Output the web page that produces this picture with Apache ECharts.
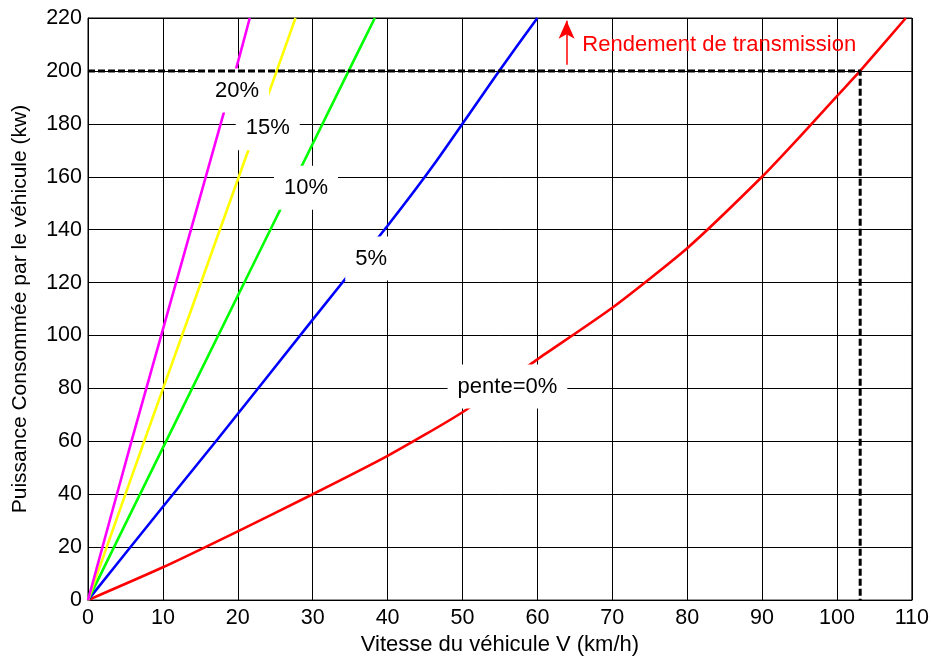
<!DOCTYPE html>
<html>
<head>
<meta charset="utf-8">
<script src="https://cdn.jsdelivr.net/npm/echarts@6/dist/echarts.min.js"></script>
<style>html,body{margin:0;padding:0;background:#fff}#c{width:932px;height:661px}</style>
</head>
<body>
<div id="c"></div>
<script>
// Data (x: km/h, y: kW)
const pente20 = [[0,0],[5.9,61],[19.7,200],[21.6,220]];
const pente15 = [[0,0],[7.7,61.6],[25.2,200],[27.7,220]];
const pente10 = [[0,0],[10.7,61.6],[34.8,200],[38.3,220]];
const pente5  = [[0,0],[10,35.3],[17.3,60.8],[30,106],[40,141.5],[46.4,165.5],[54.9,200],[60,220]];
const pente0  = [[0,0],[10,12.4],[20,26],[30,40],[40,54.5],[50,71],[60,91],[70,110.5],[80,133],[90,160],[95,175],[100,190.5],[103.1,200],[109.2,220]];
const refLine = [[0,200],[103.1,200],[103.1,0]];
const curveLabels = [[19.9,192.6,'20%'],[24.0,178.3,'15%'],[29.1,155.8,'10%'],[37.8,129.1,'5%'],[56.0,80.7,'pente=0%']];
const arrowFrom = [63.9,202.3];
const arrowTo = [63.9,219];
const noteText = [[66,209.8,'Rendement de transmission']];

const FONT = "'Liberation Sans', Arial, sans-serif";
const chart = echarts.init(document.getElementById('c'));
function curve(data, color){
  return {type:'line', data:data, showSymbol:false, symbol:'none', z:2, smooth:0.2,
    lineStyle:{color:color, width:2.6}, animation:false};
}
chart.setOption({
  animation:false,
  backgroundColor:'#fff',
  grid:{left:88, right:19, top:18, bottom:57, show:true, borderColor:'#000', borderWidth:1},
  xAxis:{type:'value', min:0, max:110, interval:10,
    name:'Vitesse du véhicule V (km/h)', nameLocation:'middle', nameGap:33,
    nameTextStyle:{fontFamily:FONT, fontSize:22, color:'#000'},
    axisLine:{lineStyle:{color:'#000'}}, axisTick:{show:false},
    axisLabel:{fontFamily:FONT, fontSize:21.5, color:'#000', margin:7},
    splitLine:{show:true, lineStyle:{color:'#000', width:1}}},
  yAxis:{type:'value', min:0, max:220, interval:20,
    name:'Puissance Consommée par le véhicule (kw)', nameLocation:'middle', nameGap:57,
    nameTextStyle:{fontFamily:FONT, fontSize:21, color:'#000'},
    axisLine:{show:true, lineStyle:{color:'#000'}}, axisTick:{show:false},
    axisLabel:{fontFamily:FONT, fontSize:21.5, color:'#000', margin:6},
    splitLine:{show:true, lineStyle:{color:'#000', width:1}}},
  series:[
    curve(pente0,'#ff0000'),
    curve(pente5,'#0000ff'),
    curve(pente10,'#00ff00'),
    curve(pente15,'#ffff00'),
    curve(pente20,'#ff00ff'),
    {type:'scatter', data:curveLabels, symbolSize:0, z:6, itemStyle:{opacity:1},
      label:{show:true, position:'inside', formatter:p=>p.data[2],
        fontFamily:FONT, fontSize:22, color:'#000', backgroundColor:'#fff',
        padding:[11,10], lineHeight:22}},
    {type:'scatter', data:noteText, symbolSize:0, z:6, itemStyle:{opacity:1},
      label:{show:true, position:'inside', align:'left', formatter:p=>p.data[2],
        fontFamily:FONT, fontSize:22, color:'#ff0000'}},
    {type:'line', data:refLine, symbol:'none', z:8,
      lineStyle:{color:'#000', width:3, type:[7,3]},
      markLine:{silent:true, symbol:['none','arrow'], symbolSize:[12,18],
        label:{show:false},
        lineStyle:{color:'#ff0000', width:1.5, type:'solid'},
        data:[[{coord:arrowFrom},{coord:arrowTo}]]}}
  ]
});
</script>
</body>
</html>
